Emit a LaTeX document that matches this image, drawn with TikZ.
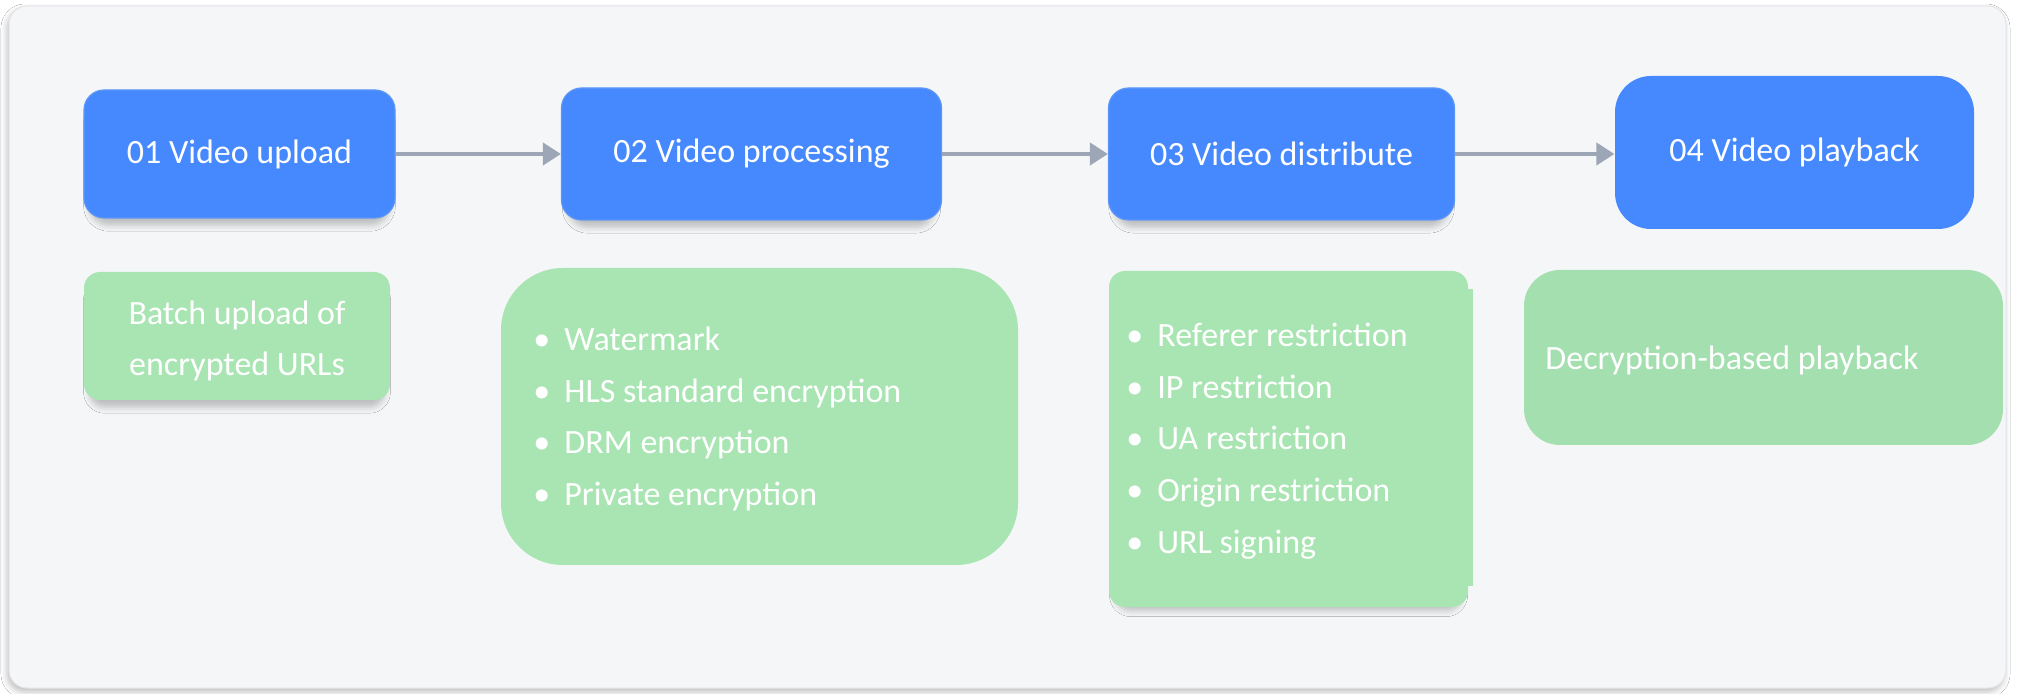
\documentclass[tikz,border=0pt]{standalone}
\usepackage{fontspec}
\setmainfont{Carlito}
\usetikzlibrary{arrows.meta,shadows.blur}
\definecolor{panelbg}{HTML}{F5F6F8}
\definecolor{panelln}{HTML}{E2E4E8}
\definecolor{stepblue}{HTML}{4689FF}
\definecolor{stepblueln}{HTML}{5C97F7}
\definecolor{notegreen}{HTML}{A9E5B3}
\definecolor{notegreenb}{HTML}{A4DFB0}
\definecolor{arrowgray}{HTML}{9CA6B6}
\tikzset{
  every node/.style={font=\fontsize{17}{25.75}\selectfont},
  softshadow/.style={blur shadow={shadow xshift=0pt, shadow yshift=-5pt, shadow blur radius=3pt, shadow scale=0.965, shadow opacity=22}},
  stepbox/.style={rectangle, rounded corners=10pt, fill=stepblue, draw=stepblueln, line width=0.6pt, text=white, inner sep=0pt},
  notebox/.style={rectangle, rounded corners=8pt, fill=notegreen, draw=none, inner sep=0pt},
  notetext/.style={text=white, inner sep=0pt, anchor=base west},
  flow/.style={draw=arrowgray, line width=2pt, -{Triangle[length=9pt,width=11pt]}},
}
\begin{document}
\begin{tikzpicture}[x=0.5pt,y=-0.5pt]
\useasboundingbox (0,0) rectangle (2018,694);
% panel
\fill[white] (0,0) rectangle (2018,694);
\draw[fill=panelbg, draw=panelln, line width=0.5pt, rounded corners=9pt,
  blur shadow={shadow xshift=-1pt, shadow yshift=-2pt, shadow blur radius=3pt, shadow opacity=25}]
  (9,6) rectangle (2006,688);

% step boxes
\node[stepbox, softshadow, minimum width=155.5pt, minimum height=64pt] (b1) at (239.5,154) {01 Video upload};
\node[stepbox, softshadow, minimum width=190pt, minimum height=66pt] (b2) at (751.5,154) {02 Video processing};
\node[stepbox, softshadow, minimum width=173pt, minimum height=66pt] (b3) at (1281.5,154) {03 Video distribute};
\node[stepbox, rounded corners=18pt, draw=none, minimum width=179.5pt, minimum height=76.5pt] (b4) at (1794.5,152.5) {04 Video playback};

% connectors
\draw[flow] (b1.east) -- (b2.west);
\draw[flow] (b2.east) -- (b3.west);
\draw[flow] (b3.east) -- (b4.west |- b3.east);

% note boxes
\node[notebox, softshadow, minimum width=153pt, minimum height=64pt] (g1) at (237,336) {};
\node[notebox, rounded corners=31pt, minimum width=258.5pt, minimum height=148.5pt] (g2) at (759.5,416.5) {};
\node[notebox, softshadow, minimum width=179.5pt, minimum height=168pt] (g3) at (1288.5,439) {};
\fill[notegreen] (1462,289) rectangle (1473,586);
\node[notebox, fill=notegreenb, rounded corners=18pt, minimum width=239.5pt, minimum height=87.5pt] (g4) at (1763.5,357.5) {};

% note texts
\node[notetext, anchor=base] (g1a) at (237,325) {Batch upload of};
\node[notetext, anchor=base] (g1b) at (237,376) {encrypted URLs};

\foreach \t [count=\i] in {Watermark, HLS standard encryption, DRM encryption, Private encryption}{
  \node[notetext] (g2d\i) at (533,{351+51.5*(\i-1)}) {•};
  \node[notetext] (g2t\i) at (564,{351+51.5*(\i-1)}) {\t};
}
\foreach \t [count=\i] in {Referer restriction, IP restriction, UA restriction, Origin restriction, URL signing}{
  \node[notetext] (g3d\i) at (1126,{347+51.5*(\i-1)}) {•};
  \node[notetext] (g3t\i) at (1157,{347+51.5*(\i-1)}) {\t};
}
\node[notetext] (g4a) at (1545,370) {Decryption-based playback};
\end{tikzpicture}
\end{document}
